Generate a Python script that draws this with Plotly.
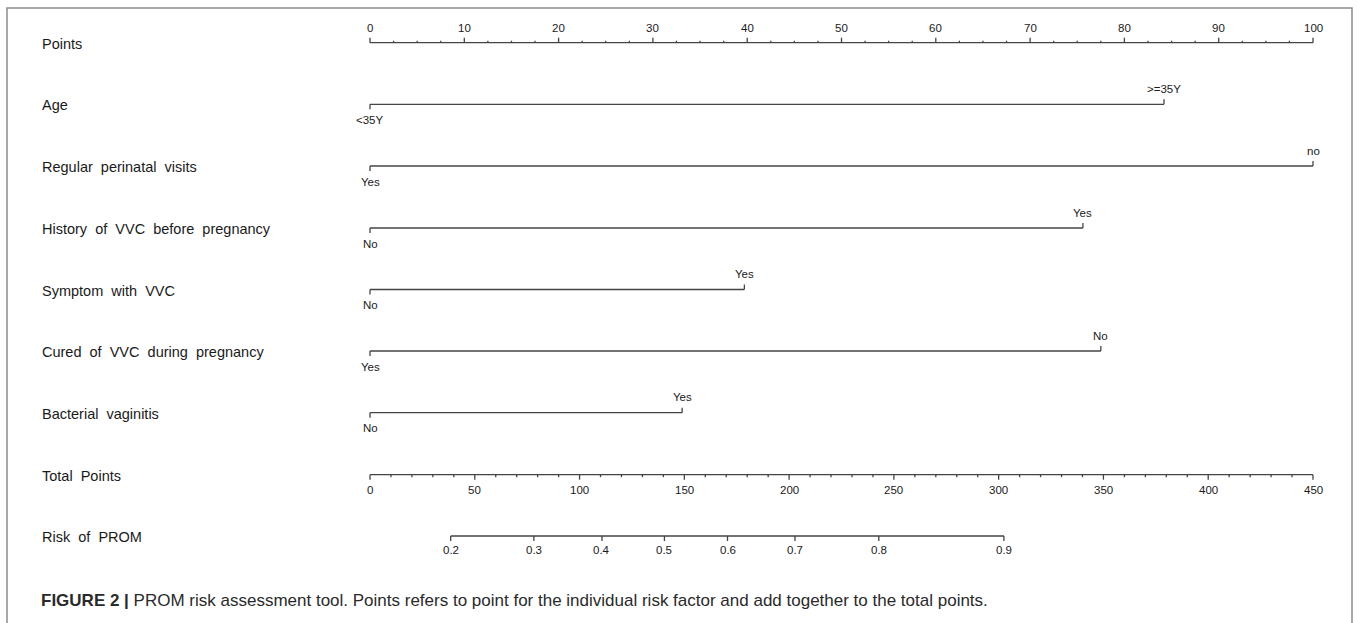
import plotly.graph_objects as go

# ---------------- data ----------------
points_ticks = [0, 10, 20, 30, 40, 50, 60, 70, 80, 90, 100]
factor_names = ["Age", "Regular perinatal visits", "History of VVC before pregnancy",
                "Symptom with VVC", "Cured of VVC during pregnancy", "Bacterial vaginitis"]
factor_low_labels = ["<35Y", "Yes", "No", "No", "Yes", "No"]
factor_high_labels = [">=35Y", "no", "Yes", "Yes", "No", "Yes"]
factor_low_points = [0, 0, 0, 0, 0, 0]
factor_high_points = [84.2, 100, 75.6, 39.7, 77.5, 33.1]
total_ticks = [0, 50, 100, 150, 200, 250, 300, 350, 400, 450]
total_max = 450
risk_labels = ["0.2", "0.3", "0.4", "0.5", "0.6", "0.7", "0.8", "0.9"]
risk_total_points = [38.5, 78.2, 110.7, 140.5, 170.6, 202.8, 242.8, 302.5]
caption_bold = "FIGURE 2 |"
caption_text = ("PROM risk assessment tool. Points refers to point for the individual "
                "risk factor and add together to the total points.")

# ---------------- layout constants ----------------
W, H = 1357, 623
X0_PX, X100_PX = 370, 1313
ppp = (X100_PX - X0_PX) / 100.0
xr = [-X0_PX / ppp, (W - X0_PX) / ppp]
row_y = [42.7, 104.3, 166.0, 228.0, 289.5, 351.0, 412.7, 474.7, 536.0]
LABEL_X = 40
LINE_C = "#444444"
TXT_C = "#1a1a1a"
FONT = "Liberation Sans, Arial, Helvetica, sans-serif"
LW = 1.3
SP = " \u00a0"


def tot_to_pts(t):
    return t * 100.0 / total_max


fig = go.Figure()
ann = []


def seg_trace(xs, ys):
    fig.add_trace(go.Scatter(x=xs, y=ys, mode="lines", hoverinfo="skip",
                             line=dict(color=LINE_C, width=LW), showlegend=False))


def add_text(x, y, text, size, anchor="center", color=TXT_C, xref="x"):
    ann.append(dict(x=x, y=y, xref=xref, yref="y", text=text, showarrow=False,
                    xanchor=anchor, yanchor="middle",
                    font=dict(family=FONT, size=size, color=color)))


def row_label(y, name):
    add_text(LABEL_X / W, y + 1, name.replace(" ", SP), 14.5, anchor="left", xref="paper")


# Points axis
y = row_y[0]
xs, ys = [0, 100, None], [y, y, None]
for k in range(0, 41):
    v = k * 2.5
    tl = 5 if k % 4 == 0 else 2
    xs += [v, v, None]
    ys += [y, y - tl, None]
seg_trace(xs, ys)
for v in points_ticks:
    add_text(v, y - 14.5, str(v), 11.5)
row_label(y, "Points")

# Factor rows
for i, name in enumerate(factor_names):
    y = row_y[i + 1]
    lo, hi = factor_low_points[i], factor_high_points[i]
    seg_trace([lo, hi, None, lo, lo, None, hi, hi],
              [y, y, None, y, y + 5, None, y, y - 5])
    add_text(lo, y + 15.5, factor_low_labels[i], 11.5)
    add_text(hi, y - 15.5, factor_high_labels[i], 11.5)
    row_label(y, name)

# Total points axis
y = row_y[7]
xs, ys = [0, 100, None], [y, y, None]
for t in range(0, total_max + 1, 10):
    tl = 5 if t % 50 == 0 else 2.5
    xs += [tot_to_pts(t), tot_to_pts(t), None]
    ys += [y, y + tl, None]
seg_trace(xs, ys)
for t in total_ticks:
    add_text(tot_to_pts(t), y + 15.5, str(t), 11.5)
row_label(y, "Total Points")

# Risk axis
y = row_y[8]
rp = [tot_to_pts(t) for t in risk_total_points]
xs, ys = [rp[0], rp[-1], None], [y, y, None]
for p in rp:
    xs += [p, p, None]
    ys += [y, y + 5, None]
seg_trace(xs, ys)
for p, lab in zip(rp, risk_labels):
    add_text(p, y + 14, lab, 11.5)
row_label(y, "Risk of PROM")

# Caption
ann.append(dict(x=39 / W, y=600, xref="paper", yref="y",
                text="<b>" + caption_bold + "</b> " + caption_text,
                showarrow=False, xanchor="left", yanchor="middle",
                font=dict(family=FONT, size=17, color="#2a2a2a")))

fig.update_layout(
    width=W, height=H, margin=dict(l=0, r=0, t=0, b=0),
    paper_bgcolor="white", plot_bgcolor="white",
    xaxis=dict(range=xr, visible=False, fixedrange=True),
    yaxis=dict(range=[H, 0], visible=False, fixedrange=True),
    annotations=ann,
    shapes=[dict(type="rect", xref="paper", yref="paper",
                 x0=7 / W, x1=1352 / W, y0=-0.2, y1=1 - 8 / H,
                 line=dict(color="#8c8c8c", width=1.5), layer="below")],
    showlegend=False,
)

fig.write_html("out.html", config={"staticPlot": True},
               post_script="document.body.style.margin='0';document.body.style.overflow='hidden';")
